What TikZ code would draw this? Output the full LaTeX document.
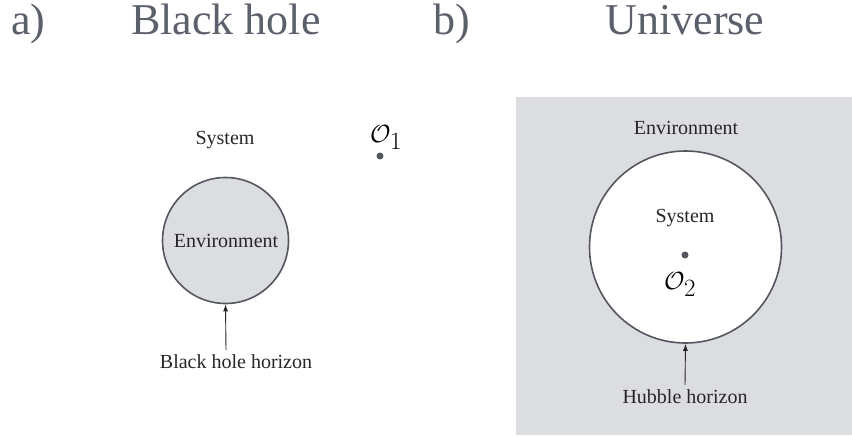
\documentclass[tikz,border=0pt]{standalone}
\usepackage{amsmath,amssymb}
\usepackage{fontspec}
\setmainfont{Liberation Serif}
\usepackage{xcolor}
\usetikzlibrary{arrows.meta,positioning,calc}
\definecolor{titlegray}{HTML}{5B606B}
\definecolor{linegray}{HTML}{55575E}
\definecolor{envgray}{HTML}{DCDDE0}
\definecolor{dotgray}{HTML}{55575E}
\tikzset{
	titlelabel/.style={anchor=base, inner sep=0pt, text=titlegray, font=\fontsize{44}{48}\selectfont},
	smalllabel/.style={anchor=base, inner sep=0pt, text=black!85, font=\fontsize{20}{24}\selectfont},
	obslabel/.style={anchor=base west, inner sep=0pt, font=\fontsize{37}{40}\selectfont},
	horizon/.style={draw=linegray, line width=1.6pt},
	arrow/.style={-{Latex[length=7pt,width=5pt]}, line width=0.9pt, black!85},
	observer/.style={circle, fill=dotgray, inner sep=0pt, minimum size=7pt}
}

\begin{document}
\begin{tikzpicture}[x=1pt, y=-1pt]
	\useasboundingbox (0,0) rectangle (852,436);
	
	% titles
	\node[titlelabel] (ta) at (28.5,35) {a)};
	\node[titlelabel] (tbh) at (226,35) {Black hole};
	\node[titlelabel] (tb) at (452,35) {b)};
	\node[titlelabel] (tuni) at (685,35) {Universe};
	
	% a) black hole
	\node[horizon, fill=envgray, circle, minimum size=126pt, inner sep=0pt] (bh) at (225.5,240.5) {};
	\node[smalllabel] (bhenv) at (226,247) {Environment};
	\node[smalllabel] (bhsys) at (225,144) {System};
	\node[smalllabel] (bhhor) at (236,368) {Black hole horizon};
	\draw[arrow] ($(bhhor.north)+(-10,-4)$) -- (bh.south);
	\node[observer] (obs1) at (380,156) {};
	\node[obslabel] (o1) at (370,142) {$\mathcal{O}_1$};
	
	% b) universe
	\fill[envgray] (516,97) rectangle (852,435);
	\node[horizon, fill=white, circle, minimum size=192pt, inner sep=0pt] (hub) at (685.5,247) {};
	\node[smalllabel] (uenv) at (686,134) {Environment};
	\node[smalllabel] (usys) at (685,222) {System};
	\node[observer] (obs2) at (685,255) {};
	\node[obslabel] (o2) at (664,289) {$\mathcal{O}_2$};
	\node[smalllabel] (uhor) at (685,403) {Hubble horizon};
	\draw[arrow] ($(uhor.north)+(0,-4)$) -- (hub.south);
\end{tikzpicture}
\end{document}
